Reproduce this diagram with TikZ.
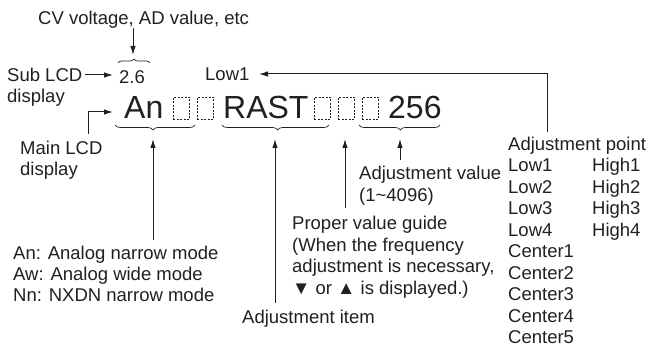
\documentclass[tikz,border=0pt]{standalone}
\usepackage{fontspec}
\setmainfont{Liberation Sans}
\usetikzlibrary{arrows.meta,decorations.pathreplacing}
\definecolor{ink}{HTML}{231F20}
\begin{document}
\begin{tikzpicture}[x=1pt,y=-1pt,
  txt/.style={anchor=base west, inner sep=0pt, font=\fontsize{18.5}{21.5}\selectfont, text=ink},
  big/.style={anchor=base west, inner sep=0pt, font=\fontsize{32}{36}\selectfont, text=ink},
  arr/.style={draw=ink, line width=1pt, -{Latex[length=9pt,width=5.5pt]}},
  slot/.style={draw=ink, line width=0.7pt, dash pattern=on 2pt off 1.4pt, inner sep=0pt, minimum width=16pt, minimum height=22pt, anchor=north west},
  brc/.style={draw=ink, line width=0.7pt, decorate, decoration={brace, amplitude=5pt}}]
\useasboundingbox (0,0) rectangle (649,347);

% top labels
\node[txt] (cv) at (38,24.5) {CV voltage, AD value, etc};
\node[txt] (sub1) at (7,81.5) {Sub LCD};
\node[txt] (sub2) at (7,103) {display};
\node[txt] (v26) at (119,84) {2.6};
\node[txt] (low1) at (205,81) {Low1};
\node[txt] (main1) at (20,154.5) {Main LCD};
\node[txt] (main2) at (20,176) {display};

% main display
\node[big] (an) at (124,119) {An};
\node[slot] (s1) at (173,97) {};
\node[slot] (s2) at (197,97) {};
\node[big] (rast) at (223,119) {RAST};
\node[slot] (s3) at (314,97) {};
\node[slot] (s4) at (338,97) {};
\node[slot] (s5) at (362,97) {};
\node[big] (val) at (388,119) {256};

% braces
\draw[brc, decoration={brace, amplitude=4pt}] (118,63) -- (150,63);
\draw[brc, decoration={brace, amplitude=5pt, aspect=0.525}] (195,125) -- (115,125);
\draw[brc, decoration={brace, amplitude=5pt, aspect=0.48}] (329,125) -- (222,125);
\draw[brc, decoration={brace, amplitude=5pt, aspect=0.49}] (440,125) -- (359,125);

% lower labels
\node[txt] (m1) at (13,259.5) {An: Analog narrow mode};
\node[txt] (m2) at (13,280.5) {Aw: Analog wide mode};
\node[txt] (m3) at (13,301.5) {Nn: NXDN narrow mode};
\node[txt] (item) at (242,323.5) {Adjustment item};
\node[txt] (g1) at (292,229.5) {Proper value guide};
\node[txt] (g2) at (292,251.3) {(When the frequency};
\node[txt] (g3) at (292,273) {adjustment is necessary,};
\node[txt] (g4) at (292,294.7) {▼ or ▲ is displayed.)};
\node[txt] (av1) at (359,179.5) {Adjustment value};
\node[txt] (av2) at (359,201.5) {(1\textasciitilde4096)};

% adjustment points
\node[txt] (ap) at (508,150.5) {Adjustment point};
\node[txt] (pl1) at (508,171.95) {Low1};
\node[txt] (pl2) at (508,193.4) {Low2};
\node[txt] (pl3) at (508,214.85) {Low3};
\node[txt] (pl4) at (508,236.3) {Low4};
\node[txt] (ph1) at (592,171.95) {High1};
\node[txt] (ph2) at (592,193.4) {High2};
\node[txt] (ph3) at (592,214.85) {High3};
\node[txt] (ph4) at (592,236.3) {High4};
\node[txt] (pc1) at (508,257.75) {Center1};
\node[txt] (pc2) at (508,279.2) {Center2};
\node[txt] (pc3) at (508,300.65) {Center3};
\node[txt] (pc4) at (508,322.1) {Center4};
\node[txt] (pc5) at (508,343.55) {Center5};

% connector end points
\coordinate (cvA) at (133,28);
\coordinate (cvB) at (133,55);
\coordinate (subA) at (85,75);
\coordinate (subB) at (113,75);
\coordinate (mainA) at (88,134);
\coordinate (mainC) at (88,112);
\coordinate (mainB) at (113,112);
\coordinate (lowA) at (547,132);
\coordinate (lowC) at (547,74);
\coordinate (lowB) at (259,74);
\coordinate (anA) at (153,240);
\coordinate (anB) at (153,139);
\coordinate (itA) at (275,303);
\coordinate (itB) at (275,139);
\coordinate (gA) at (345,208);
\coordinate (gB) at (345,139);
\coordinate (vA) at (400,160);
\coordinate (vB) at (400,139);

\draw[arr] (cvA) -- (cvB);
\draw[arr] (subA) -- (subB);
\draw[arr] (mainA) -- (mainC) -- (mainB);
\draw[arr] (lowA) -- (lowC) -- (lowB);
\draw[arr] (anA) -- (anB);
\draw[arr] (itA) -- (itB);
\draw[arr] (gA) -- (gB);
\draw[arr] (vA) -- (vB);
\end{tikzpicture}
\end{document}
